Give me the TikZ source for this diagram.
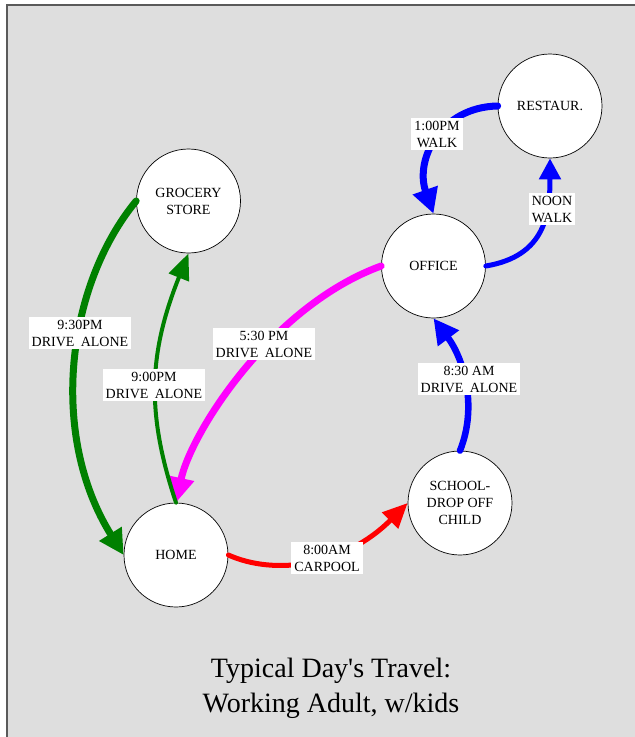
\documentclass[tikz,border=0pt]{standalone}
\usepackage{fontspec}
\setmainfont{Liberation Serif}
\usetikzlibrary{arrows.meta}
\definecolor{bggray}{RGB}{222,222,222}
\definecolor{dgreen}{RGB}{0,128,0}
\definecolor{framec}{RGB}{90,90,90}
\definecolor{pmagenta}{RGB}{255,0,255}
\definecolor{pblue}{RGB}{0,0,255}
\definecolor{pred}{RGB}{255,0,0}
\begin{document}
\begin{tikzpicture}[x=1pt,y=-1pt,
 place/.style={circle, draw, fill=white, line width=0.7pt, minimum size=104pt, inner sep=0pt, align=center, font=\fontsize{14}{17}\selectfont},
 lbl/.style={fill=white, inner xsep=3pt, inner ysep=3pt, align=center, font=\fontsize{14}{17}\selectfont},
 conn/.style={line cap=round, -{Triangle[length=25pt,width=25pt]}},
]
\useasboundingbox (0,0) rectangle (635,737);
\fill[bggray] (7,5) rectangle (635,737);
\draw[framec, line width=1.5pt] (7,737) -- (7,5) -- (635,5);

\node[place] (rest) at (550,106) {RESTAUR.};
\node[place] (office) at (433.5,266) {OFFICE};
\node[place] (grocery) at (188.5,201) {GROCERY\\STORE};
\node[place] (home) at (176,555) {HOME};
\node[place] (school) at (460,503) {SCHOOL-\\DROP OFF\\CHILD};

\draw[conn, pblue, line width=7pt] (rest.180) .. controls +(-57,1) and +(-19,-54) .. (office.north);
\draw[conn, pblue, line width=5pt, -{Triangle[length=21pt,width=21pt]}] (office.east) .. controls +(60,-10) and +(0,55) .. (rest.south);
\draw[conn, pblue, line width=6.5pt] (school.north) .. controls +(18,-45) and +(30,40) .. (office.south);
\draw[conn, pred, line width=5pt, -{Triangle[length=25pt,width=22pt]}] (home.east) .. controls +(47,21) and +(-63,63) .. (school.west);
\draw[conn, pmagenta, line width=7pt] (office.west) .. controls +(-110,40) and +(15,-70) .. (home.north);
\draw[conn, dgreen, line width=4pt, -{Triangle[length=26pt,width=21pt]}] (home.north) .. controls +(-30,-90) and +(-40,100) .. (grocery.south);
\draw[conn, dgreen, line width=7pt] (grocery.180) .. controls +(-70,85) and +(-75,-120) .. (home.west);

\node[lbl] (l1) at (437,134) {1:00PM\\WALK};
\node[lbl] (l2) at (552,209) {NOON\\WALK};
\node[lbl] (l3) at (80,333) {9:30PM\\DRIVE\hspace{0.45em}ALONE};
\node[lbl] (l4) at (154,385) {9:00PM\\DRIVE\hspace{0.45em}ALONE};
\node[lbl] (l5) at (264,344) {5:30 PM\\DRIVE\hspace{0.45em}ALONE};
\node[lbl] (l6) at (469,379) {8:30 AM\\DRIVE\hspace{0.45em}ALONE};
\node[lbl] (l7) at (327,558) {8:00AM\\CARPOOL};

\node[font=\fontsize{28}{35}\selectfont, align=center] (title) at (331,688) {Typical Day\textquotesingle s Travel:\\Working Adult, w/kids};
\end{tikzpicture}
\end{document}
